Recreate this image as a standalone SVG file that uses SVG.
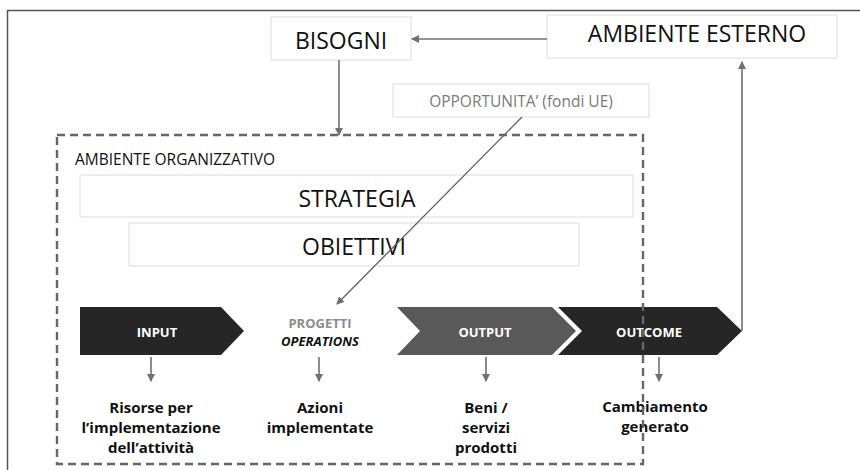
<svg xmlns="http://www.w3.org/2000/svg" width="860" height="470" viewBox="0 0 860 470">
  <style>
    .box { fill: #ffffff; stroke: #dcdcdc; stroke-width: 1; }
    .title { font-family: "Open Sans", "Liberation Sans", sans-serif; fill: #111; text-anchor: middle; }
    .conn { stroke: #707070; stroke-width: 1.6; fill: none; }
    .thin { stroke: #606060; stroke-width: 1.3; fill: none; }
    .chev-label { font-family: "Open Sans", "Liberation Sans", sans-serif; font-size: 13px; font-weight: bold; fill: #ffffff; text-anchor: middle; }
    .result { font-family: "Open Sans", "Liberation Sans", sans-serif; font-size: 15px; font-weight: bold; fill: #111; text-anchor: middle; }
  </style>
  <defs>
    <marker id="head" markerWidth="8" markerHeight="8" refX="7" refY="4" orient="auto" markerUnits="userSpaceOnUse">
      <path d="M0,0 L8,4 L0,8 Z" fill="#707070"/>
    </marker>
  </defs>

  <rect width="860" height="470" fill="#ffffff"/>
  <!-- outer frame -->
  <path d="M7.5,470 V10.5 H860" fill="none" stroke="#555" stroke-width="1.5"/>

  <!-- top nodes -->
  <g id="bisogni">
    <rect class="box" x="271" y="17" width="140" height="43"/>
    <text class="title" x="341" y="49" font-size="23">BISOGNI</text>
  </g>
  <g id="ambiente-esterno">
    <rect class="box" x="547" y="15" width="290" height="43"/>
    <text class="title" x="697" y="42" font-size="23">AMBIENTE ESTERNO</text>
  </g>
  <g id="opportunita">
    <rect class="box" x="393" y="84" width="256" height="33"/>
    <text x="521" y="107" font-family="'Open Sans', 'Liberation Sans', sans-serif" font-size="15.5" fill="#7a7a7a" text-anchor="middle">OPPORTUNITA’ (fondi UE)</text>
  </g>

  <!-- organisational environment -->
  <g id="ambiente-organizzativo">
    <text x="75" y="165" font-family="'Open Sans', 'Liberation Sans', sans-serif" font-size="15.5" fill="#111">AMBIENTE ORGANIZZATIVO</text>
  </g>
  <g id="strategia">
    <rect class="box" x="80" y="175" width="553" height="42"/>
    <text class="title" x="357" y="207" font-size="23">STRATEGIA</text>
  </g>
  <g id="obiettivi">
    <rect class="box" x="129" y="223" width="450" height="43"/>
    <text class="title" x="354" y="255" font-size="23">OBIETTIVI</text>
  </g>

  <!-- process chevrons -->
  <g id="input">
    <path d="M80,307 H221 L244,331 L221,355 H80 Z" fill="#262626"/>
    <text class="chev-label" x="157" y="337">INPUT</text>
  </g>
  <g id="progetti">
    <text x="320" y="328" font-family="'Open Sans', 'Liberation Sans', sans-serif" font-size="13" font-weight="bold" fill="#8c8c8c" text-anchor="middle">PROGETTI</text>
    <text x="320" y="346" font-family="'Open Sans', 'Liberation Sans', sans-serif" font-size="13" font-weight="bold" font-style="italic" fill="#111" text-anchor="middle">OPERATIONS</text>
  </g>
  <g id="output">
    <path d="M397,307 H552 L576,331 L552,355 H397 L420,331 Z" fill="#595959"/>
    <text class="chev-label" x="485" y="337">OUTPUT</text>
  </g>
  <g id="outcome">
    <path d="M558,307 H717 L742,331 L717,355 H558 L582,331 Z" fill="#262626"/>
    <text class="chev-label" x="649" y="337">OUTCOME</text>
  </g>

  <!-- results -->
  <g id="risorse">
    <text class="result" x="151" y="413">Risorse per</text>
    <text class="result" x="151" y="433">l’implementazione</text>
    <text class="result" x="151" y="453">dell’attività</text>
  </g>
  <g id="azioni">
    <text class="result" x="320" y="413">Azioni</text>
    <text class="result" x="320" y="433">implementate</text>
  </g>
  <g id="beni">
    <text class="result" x="486" y="413">Beni /</text>
    <text class="result" x="486" y="433">servizi</text>
    <text class="result" x="486" y="453">prodotti</text>
  </g>
  <g id="cambiamento">
    <text class="result" x="655" y="412">Cambiamento</text>
    <text class="result" x="655" y="432">generato</text>
  </g>

  <!-- connectors -->
  <g id="connectors">
    <line class="conn" x1="547" y1="39" x2="412" y2="39" marker-end="url(#head)"/>
    <line class="conn" x1="339" y1="60" x2="339" y2="135" marker-end="url(#head)"/>
    <line class="thin" x1="522" y1="117" x2="337" y2="304" marker-end="url(#head)"/>
    <line class="conn" x1="742" y1="331" x2="742" y2="62" marker-end="url(#head)"/>
    <line class="conn" x1="151" y1="357" x2="151" y2="381" marker-end="url(#head)"/>
    <line class="conn" x1="319" y1="357" x2="319" y2="381" marker-end="url(#head)"/>
    <line class="conn" x1="486" y1="357" x2="486" y2="381" marker-end="url(#head)"/>
    <line class="conn" x1="659" y1="357" x2="659" y2="381" marker-end="url(#head)"/>
  </g>

  <!-- dashed boundary of the organisational environment -->
  <rect x="57" y="135" width="586" height="329" fill="none" stroke="#666" stroke-width="2.4" stroke-dasharray="8,5"/>
</svg>
